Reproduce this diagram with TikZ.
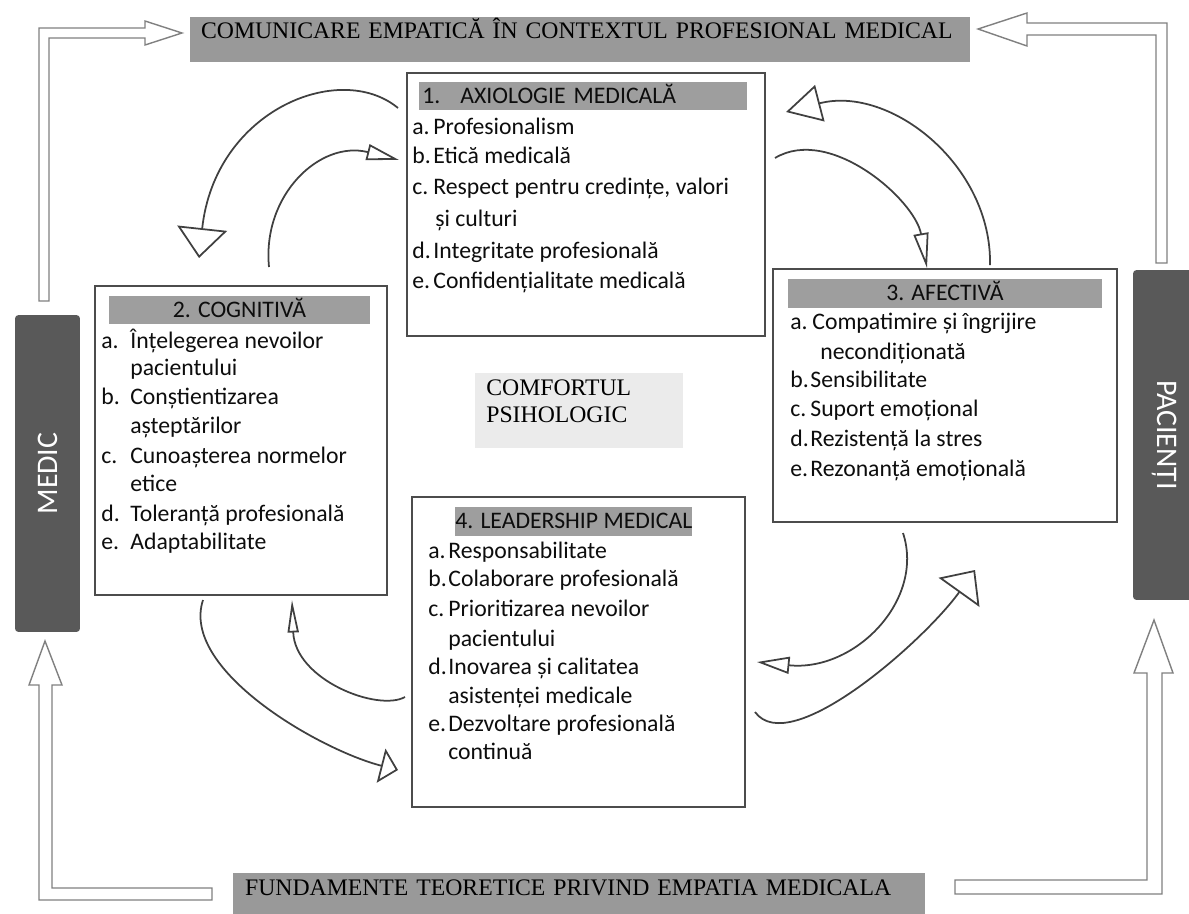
\documentclass[tikz,border=0pt]{standalone}
\usepackage{fontspec}
\setmainfont{Carlito}
\newfontfamily\bannerfont{Liberation Serif}
\usetikzlibrary{calc, arrows.meta}

\definecolor{bannergray}{gray}{0.6}
\definecolor{hdrgray}{gray}{0.62}
\definecolor{bargray}{gray}{0.35}
\definecolor{comfgray}{gray}{0.92}
\definecolor{framegray}{gray}{0.3}
\definecolor{outlinegray}{gray}{0.5}

\tikzset{
  boxframe/.style={draw=framegray, line width=0.7pt, fill=white, inner sep=0pt},
  hdrbar/.style={fill=hdrgray, inner ysep=0pt, text height=0.3cm, text depth=0pt,
    font=\fontsize{13.5}{16}\selectfont, text=black!95},
  itemtxt/.style={anchor=base west, inner sep=0pt, font=\fontsize{13.5}{16}\selectfont, text=black!95},
  banner/.style={fill=bannergray, inner ysep=0pt, align=left,
    font=\bannerfont\fontsize{13.5}{16}\selectfont, text=black},
  sidebar/.style={fill=bargray, rounded corners=2pt, inner sep=0pt, text=white,
    font=\fontsize{17}{20}\selectfont},
  blockarrow/.style={draw=outlinegray, line width=0.8pt, fill=white, line join=miter},
  flowcurve/.style={draw=black!75, line width=1pt},
}

\begin{document}
\begin{tikzpicture}[x=0.02cm, y=-0.02cm]
    \useasboundingbox (0,0) rectangle (1189,913);

    % hollow block arrows round the frame
    \draw[blockarrow] (39,301) -- (39,28) -- (145,28) -- (145,21) -- (182,33) -- (145,45) -- (145,38) -- (49,38) -- (49,301) -- cycle;
    \draw[blockarrow] (1167,263) -- (1167,23) -- (1027,23) -- (1027,13) -- (978,29) -- (1027,46) -- (1027,35) -- (1156,35) -- (1156,263) -- cycle;
    \draw[blockarrow] (212,888) -- (52,888) -- (52,685) -- (62,685) -- (45,641) -- (29,685) -- (39,685) -- (39,900) -- (212,900) -- cycle;
    \draw[blockarrow] (955,880) -- (1147,880) -- (1147,673) -- (1134,673) -- (1154,620) -- (1173,673) -- (1162,673) -- (1162,894) -- (955,894) -- cycle;

    % banners
    \node[banner, minimum width=15.6cm, minimum height=0.9cm, text width=15.16cm, inner xsep=0.22cm,
      text height=0.32cm, text depth=0.38cm] (topban) at (580,39.5) {COMUNICARE EMPATICĂ ÎN CONTEXTUL PROFESIONAL MEDICAL};
    \node[banner, minimum width=13.84cm, minimum height=0.9cm, text width=13.36cm, inner xsep=0.24cm,
      text height=0.3cm, text depth=0.32cm] (botban) at (579,895.5) {FUNDAMENTE TEORETICE PRIVIND EMPATIA MEDICALA};

    % side bars
    \node[sidebar, rotate=90, minimum width=6.34cm, minimum height=1.3cm] (medic) at (47.5,473.5) {MEDIC};
    \node[sidebar, rotate=-90, minimum width=6.6cm, minimum height=1.24cm] (pacienti) at (1164,435) {PACIENȚI};

    % the four boxes
    \node[boxframe, minimum width=7.16cm, minimum height=5.26cm] (axbox) at (586,204.5) {};
    \node[boxframe, minimum width=5.84cm, minimum height=6.18cm] (cogbox) at (241,440.5) {};
    \node[boxframe, minimum width=6.88cm, minimum height=5.06cm] (afbox) at (945,395.5) {};
    \node[boxframe, minimum width=6.66cm, minimum height=6.2cm] (leadbox) at (578.5,652) {};

    % headers
    \node[hdrbar, anchor=west, inner xsep=0.06cm, text width=6.44cm, align=left, minimum height=0.56cm] (axhdr) at (419,96)
      {\makebox[0.76cm][l]{1.}AXIOLOGIE MEDICALĂ};
    \node[hdrbar, minimum width=5.22cm, minimum height=0.56cm] (coghdr) at (239.5,310) {2. COGNITIVĂ};
    \node[hdrbar, minimum width=6.28cm, minimum height=0.58cm] (afhdr) at (945,293) {3. AFECTIVĂ};
    \node[hdrbar, anchor=west, inner xsep=0pt, minimum height=0.58cm] (leadhdr) at (455,521) {4. LEADERSHIP MEDICAL};

    % items
    \foreach \y/\lab/\tx/\txt [count=\i] in {134/a./433/Profesionalism, 163/b./433/Etică medicală,
        {194/c./433/Respect pentru credințe, valori}, 226//435/și culturi,
        258/d./433/Integritate profesională, 288/e./433/Confidențialitate medicală}{
      \node[itemtxt] (axl\i) at (412,\y) {\lab};
      \node[itemtxt] (axt\i) at (\tx,\y) {\txt};
    }
    \foreach \y/\lab/\txt [count=\i] in {348/a./Înțelegerea nevoilor, 375//pacientului,
        404/b./Conștientizarea, 433//așteptărilor, 463/c./Cunoașterea normelor, 491//etice,
        521/d./Toleranță profesională, 549/e./Adaptabilitate}{
      \node[itemtxt] (cogl\i) at (101,\y) {\lab};
      \node[itemtxt] (cogt\i) at (130,\y) {\txt};
    }
    \foreach \y/\lab/\tx/\txt [count=\i] in {329/a./812/Compatimire și îngrijire, 359//820/necondiționată,
        387/b./810/Sensibilitate, 416/c./810/Suport emoțional,
        446/d./810/Rezistență la stres, 476/e./810/Rezonanță emoțională}{
      \node[itemtxt] (afl\i) at (790,\y) {\lab};
      \node[itemtxt] (aft\i) at (\tx,\y) {\txt};
    }
    \foreach \y/\lab/\txt [count=\i] in {558/a./Responsabilitate, 586/b./Colaborare profesională,
        616/c./Prioritizarea nevoilor, 646//pacientului, 674/d./Inovarea și calitatea,
        703//asistenței medicale, 731/e./Dezvoltare profesională, 759//continuă}{
      \node[itemtxt] (leadl\i) at (428,\y) {\lab};
      \node[itemtxt] (leadt\i) at (448,\y) {\txt};
    }

    % centre
    \node[fill=comfgray, anchor=north west, inner xsep=0.22cm, inner ysep=0.12cm, text width=3.72cm, align=left,
      font=\bannerfont\fontsize{13.5}{15.9}\selectfont, text=black] (comfort) at (475,373)
      {COMFORTUL\\PSIHOLOGIC\rule[-0.38cm]{0pt}{0pt}};

    % curved arrows between the boxes
    \coordinate (c1o-s) at (398,108);
    \coordinate (c1o-e) at (199,258);
    \coordinate (c1i-s) at (269,267);
    \coordinate (c1i-e) at (399,160);
    \coordinate (c2o-s) at (990,265);
    \coordinate (c2o-e) at (786,112);
    \coordinate (c2i-s) at (775,158);
    \coordinate (c2i-e) at (927,268);
    \coordinate (c3o-s) at (903,533);
    \coordinate (c3o-e) at (757,662);
    \coordinate (c3i-s) at (755,712);
    \coordinate (c3i-e) at (975,570);
    \coordinate (c4o-s) at (203,600);
    \coordinate (c4o-e) at (398,770);
    \coordinate (c4i-s) at (405,697);
    \coordinate (c4i-e) at (292,600);

    \draw[flowcurve, -{Triangle[open, length=0.6cm, width=1cm]}] (c1o-s) .. controls (340,60) and (215,110) .. (c1o-e);
    \draw[flowcurve, -{Triangle[open, length=0.65cm, width=0.32cm]}] (c1i-s) .. controls (262,195) and (320,140) .. (c1i-e);
    \draw[flowcurve, -{Triangle[open, length=0.7cm, width=0.75cm]}] (c2o-s) .. controls (992,165) and (890,85) .. (c2o-e);
    \draw[flowcurve, -{Triangle[open, length=0.7cm, width=0.3cm]}] (c2i-s) .. controls (830,125) and (915,200) .. (c2i-e);
    \draw[flowcurve, -{Triangle[open, length=0.65cm, width=0.34cm]}] (c3o-s) .. controls (925,600) and (855,672) .. (c3o-e);
    \draw[flowcurve, -{Triangle[open, length=0.55cm, width=1cm]}] (c3i-s) .. controls (790,760) and (925,640) .. (c3i-e);
    \draw[flowcurve, -{Triangle[open, length=0.35cm, width=0.7cm]}] (c4o-s) .. controls (180,670) and (320,750) .. (c4o-e);
    \draw[flowcurve, -{Triangle[open, length=0.65cm, width=0.22cm]}] (c4i-s) .. controls (378,712) and (295,680) .. (c4i-e);
\end{tikzpicture}
\end{document}
